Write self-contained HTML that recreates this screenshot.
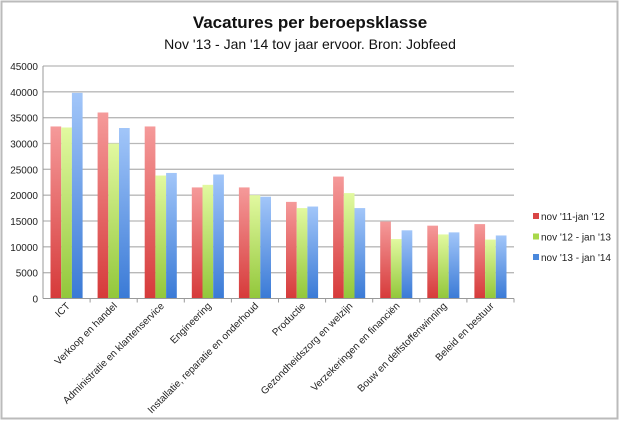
<!DOCTYPE html>
<html><head><meta charset="utf-8"><style>
body{margin:0;background:#fff;}
svg{display:block;font-family:"Liberation Sans",sans-serif;}
</style></head><body>
<svg id="c" width="620" height="421">
<defs>
<linearGradient id="gr" x1="0" y1="0" x2="0" y2="1"><stop offset="0" stop-color="#f59a9a"/><stop offset="1" stop-color="#d63a3a"/></linearGradient>
<linearGradient id="gg" x1="0" y1="0" x2="0" y2="1"><stop offset="0" stop-color="#e2f9a0"/><stop offset="1" stop-color="#92c73a"/></linearGradient>
<linearGradient id="gb" x1="0" y1="0" x2="0" y2="1"><stop offset="0" stop-color="#a2c6f9"/><stop offset="1" stop-color="#3a7ad6"/></linearGradient>
</defs>
<rect x="1.5" y="1.5" width="616" height="417" fill="#fff" stroke="#bbb" stroke-width="2"/>
<text x="310" y="28" text-anchor="middle" font-size="17" font-weight="bold" fill="#111">Vacatures per beroepsklasse</text>
<text x="310" y="49" text-anchor="middle" font-size="14" fill="#111">Nov '13 - Jan '14 tov jaar ervoor. Bron: Jobfeed</text>
<g id="grid"></g><g id="bars"></g><g id="axes"></g><g id="legend"></g>
</svg>
<script>
const categories=["ICT","Verkoop en handel","Administratie en klantenservice","Engineering","Installatie, reparatie en onderhoud","Productie","Gezondheidszorg en welzijn","Verzekeringen en financiën","Bouw en delfstoffenwinning","Beleid en bestuur"];
const seriesNames=["nov '11-jan '12","nov '12 - jan '13","nov '13 - jan '14"];
const s1=[33300,36000,33300,21500,21500,18700,23600,14900,14100,14400];
const s2=[33100,30000,23800,22000,20000,17500,20400,11500,12400,11400];
const s3=[39800,33000,24300,24000,19700,17800,17500,13200,12800,12200];
const ticks=[0,5000,10000,15000,20000,25000,30000,35000,40000,45000];
const NS="http://www.w3.org/2000/svg";
const X0=43,X1=514,Y0=298.5,Y1=66,VMAX=45000;
const y=v=>Y0-(v/VMAX)*(Y0-Y1);
const bw=(X1-X0)/categories.length;
const x=i=>X0+i*bw;
function mk(t,a,p){const e=document.createElementNS(NS,t);for(const k in a)e.setAttribute(k,a[k]);p.appendChild(e);return e;}
const grid=document.getElementById('grid'),bars=document.getElementById('bars'),axes=document.getElementById('axes'),legend=document.getElementById('legend');
ticks.forEach(t=>{
 if(t>0){const l=mk('line',{x1:X0,x2:X1,y1:y(t),y2:y(t),stroke:'#b8b8b8','stroke-width':1.3},grid);
 
 }
 const tx=mk('text',{x:X0-5,y:y(t)+4,'text-anchor':'end','font-size':10,fill:'#222'},axes);tx.textContent=t;
 
 
});
mk('line',{x1:X0,x2:X0,y1:Y1,y2:Y0,stroke:'#999'},axes);
mk('line',{x1:X0,x2:X1,y1:Y0,y2:Y0,stroke:'#999'},axes);
const series=[s1,s2,s3],fills=['url(#gr)','url(#gg)','url(#gb)'],solid=['#d94545','#a8d84a','#4a88dc'];
const barW=10.7,groupOff=(bw-3*barW)/2;
categories.forEach((c,i)=>{
 series.forEach((s,j)=>{
  const r=mk('rect',{x:x(i)+groupOff+j*barW,y:y(s[i]),width:barW,height:Y0-y(s[i]),fill:fills[j]},bars);
  
  
 });
 mk('line',{x1:x(i+1),x2:x(i+1),y1:Y0,y2:Y0+4,stroke:'#999'},axes);
 const cx=x(i)+bw/2+4,cy=Y0+8;
 const t=mk('text',{x:cx,y:cy,'text-anchor':'end','font-size':10,fill:'#222',transform:`rotate(-45 ${cx} ${cy})`},axes);
 t.textContent=c;
 
 
});
seriesNames.forEach((n,j)=>{
 const ly=217+j*20.5;
 const r=mk('rect',{x:533,y:ly-4,width:6,height:6,fill:solid[j]},legend);
 
 
 const t=mk('text',{x:541,y:ly+3,'font-size':10,fill:'#222'},legend);t.textContent=n;
 
 
});
</script>
</body></html>
